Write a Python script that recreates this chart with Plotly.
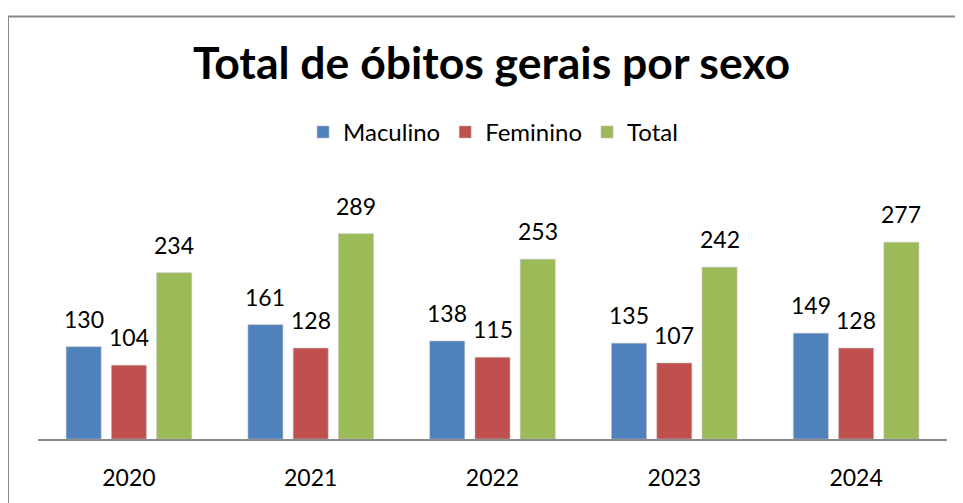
import plotly.graph_objects as go

years = ["2020", "2021", "2022", "2023", "2024"]
masculino = [130, 161, 138, 135, 149]
feminino = [104, 128, 115, 107, 128]
total = [234, 289, 253, 242, 277]

series = [
    ("Maculino", masculino, "#4F81BD"),
    ("Feminino", feminino, "#C0504D"),
    ("Total", total, "#9BBB59"),
]

FONT = "Lato"
W, H = 955, 495          # page body adds an 8px offset
ML, MR, MT, MB = 30, 16, 192, 58
plot_w = W - ML - MR
plot_h = H - MT - MB
BARGAP = 0.253
GROUPGAP = 0.227
slot = plot_w / len(years) * (1 - BARGAP) / len(series)

fig = go.Figure()
for i, (name, vals, col) in enumerate(series):
    fig.add_trace(go.Bar(
        x=years, y=vals, name=name,
        marker=dict(color=col, line=dict(color="rgba(190,190,190,0.55)", width=1)),
        hoverinfo="x+y+name",
    ))
    shift = (i - (len(series) - 1) / 2) * slot
    for j, v in enumerate(vals):
        fig.add_annotation(x=j, y=v, text=str(v), showarrow=False,
                           xshift=shift, yshift=12, yanchor="bottom",
                           font=dict(size=23, color="black", family=FONT))

fig.update_layout(
    width=W, height=H,
    margin=dict(l=ML, r=MR, t=MT, b=MB),
    paper_bgcolor="white", plot_bgcolor="white",
    barmode="group", bargap=BARGAP, bargroupgap=GROUPGAP,
    title=dict(text="<b>Total de óbitos gerais por sexo</b>",
               font=dict(size=44.5, color="black", family=FONT),
               x=0.5063, xanchor="center", y=1 - 55 / H, yanchor="middle"),
    legend=dict(orientation="h", x=0.5006, xanchor="center", y=1.283, yanchor="middle",
                font=dict(size=24, color="black", family=FONT),
                itemwidth=30, traceorder="normal"),
    font=dict(family=FONT),
    showlegend=True,
)
fig.update_xaxes(type="category", range=[-0.5, len(years) - 0.5],
                 showline=True, linecolor="#8A8A8A", linewidth=2,
                 ticks="outside", ticklen=17, tickcolor="rgba(0,0,0,0)",
                 tickfont=dict(size=23, color="black", family=FONT),
                 showgrid=False)
fig.update_yaxes(visible=False, range=[0, plot_h / 0.728], showgrid=False)

fig.add_shape(type="rect", xref="paper", yref="paper",
              x0=(8 - 38) / plot_w, x1=1.05, y0=-0.4, y1=(445 - 12) / plot_h,
              line=dict(color="#8A8A8A", width=2), fillcolor="rgba(0,0,0,0)", layer="below")

fig.write_html("out.html")
